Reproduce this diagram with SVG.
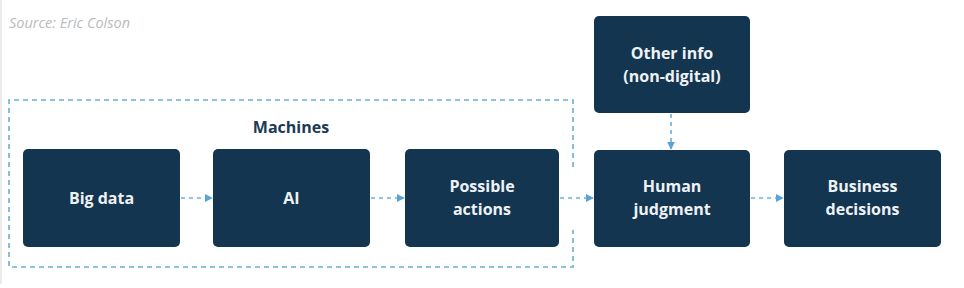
<svg xmlns="http://www.w3.org/2000/svg" width="964" height="288" viewBox="0 0 964 288">
<defs>
<style>
.box{fill:#14354f;}
.lbl{fill:#eef2f5;font-family:"Open Sans","Lato","Liberation Sans",sans-serif;font-weight:700;font-size:16px;text-anchor:middle;}
.dash{fill:none;stroke:#6aaed6;stroke-width:1.6;stroke-dasharray:5 4;}
.conn{fill:none;stroke:#6aaed6;stroke-width:1.6;stroke-dasharray:4 4;}
</style>
<marker id="ah" viewBox="0 0 10 10" refX="9" refY="5" markerWidth="8" markerHeight="8" markerUnits="userSpaceOnUse" orient="auto">
<path d="M0,0 L10,5 L0,10 z" fill="#5aa3d3"/>
</marker>
</defs>
<rect x="0" y="0" width="964" height="288" fill="#ffffff"/>
<line x1="1" y1="0" x2="1" y2="284" stroke="#e4e4e4" stroke-width="1.5"/>
<text x="9" y="28" font-family="'Open Sans',Lato,'Liberation Sans',sans-serif" font-style="italic" font-size="14" fill="#b8bcc0" textLength="121" lengthAdjust="spacingAndGlyphs">Source: Eric Colson</text>

<g id="machines-group">
<path class="dash" d="M573,167 L573,100 L9,100 L9,267 L573,267 L573,230"/>
<text x="291" y="133" font-family="'Open Sans',Lato,'Liberation Sans',sans-serif" font-weight="700" font-size="16" fill="#1d3a55" text-anchor="middle">Machines</text>
</g>

<g id="connectors">
<line class="conn" x1="181" y1="198" x2="212" y2="198" marker-end="url(#ah)"/>
<line class="conn" x1="371" y1="198" x2="404" y2="198" marker-end="url(#ah)"/>
<line class="conn" x1="560" y1="198" x2="593" y2="198" marker-end="url(#ah)"/>
<line class="conn" x1="751" y1="198" x2="783" y2="198" marker-end="url(#ah)"/>
<line class="conn" x1="671" y1="114" x2="671" y2="149" marker-end="url(#ah)"/>
</g>

<g id="big-data">
<rect class="box" x="23" y="149" width="157" height="98" rx="5"/>
<text class="lbl" x="101.5" y="204">Big data</text>
</g>
<g id="ai">
<rect class="box" x="213" y="149" width="157" height="98" rx="5"/>
<text class="lbl" x="291.5" y="204">AI</text>
</g>
<g id="possible-actions">
<rect class="box" x="405" y="149" width="154" height="98" rx="5"/>
<text class="lbl" x="482" y="192">Possible</text>
<text class="lbl" x="482" y="215">actions</text>
</g>
<g id="other-info">
<rect class="box" x="594" y="16" width="156" height="97" rx="5"/>
<text class="lbl" x="672" y="59">Other info</text>
<text class="lbl" x="672" y="82">(non-digital)</text>
</g>
<g id="human-judgment">
<rect class="box" x="594" y="150" width="156" height="97" rx="5"/>
<text class="lbl" x="672" y="192">Human</text>
<text class="lbl" x="672" y="215">judgment</text>
</g>
<g id="business-decisions">
<rect class="box" x="784" y="150" width="157" height="97" rx="5"/>
<text class="lbl" x="862.5" y="192">Business</text>
<text class="lbl" x="862.5" y="215">decisions</text>
</g>
</svg>
